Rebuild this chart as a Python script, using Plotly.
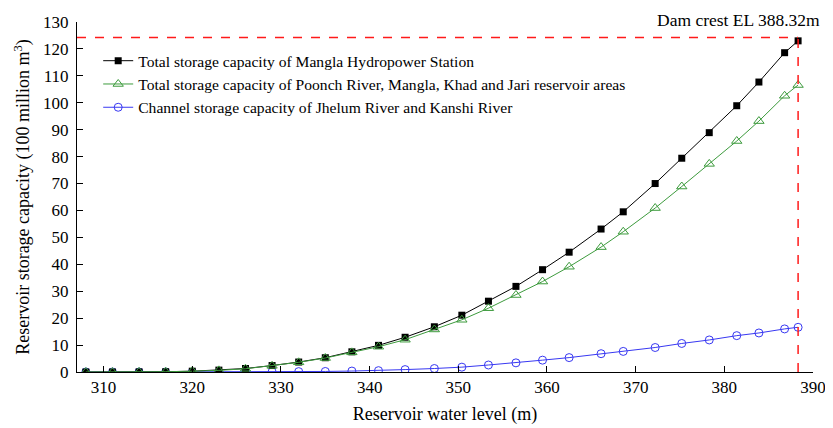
import plotly.graph_objects as go

# ── Data ────────────────────────────────────────────────────────────────────

water_level = [
    308.0, 311.0, 314.0, 317.0, 320.0, 323.0, 326.0, 329.0, 332.0, 335.0,
    338.0, 341.0, 344.0, 347.3, 350.4, 353.4, 356.5, 359.5, 362.5, 366.1,
    368.6, 372.2, 375.2, 378.3, 381.4, 383.9, 386.8, 388.32,
]
total_mangla = [
    0.0, 0.0, 0.05, 0.1, 0.3, 0.7, 1.3, 2.4, 3.7, 5.3,
    7.5, 9.9, 12.9, 16.8, 21.1, 26.3, 31.8, 38.0, 44.5, 53.1,
    59.5, 70.0, 79.4, 88.9, 98.9, 107.7, 118.6, 123.0,
]
total_reservoir_areas = [
    0.0, 0.0, 0.05, 0.1, 0.3, 0.6, 1.2, 2.3, 3.6, 5.2,
    7.3, 9.4, 12.0, 15.8, 19.4, 23.7, 28.6, 33.6, 39.1, 46.4,
    52.1, 60.9, 68.9, 77.3, 85.8, 93.2, 102.6, 106.6,
]
channel_storage = [
    0.0, 0.0, 0.0, 0.0, 0.0, 0.0, 0.0, 0.1, 0.15, 0.2,
    0.35, 0.5, 0.9, 1.3, 1.8, 2.6, 3.4, 4.4, 5.35, 6.8,
    7.65, 9.1, 10.6, 11.9, 13.5, 14.5, 16.0, 16.6,
]

DAM_CREST_LEVEL = 388.32
DAM_CREST_CAPACITY = 124.2

FONT = "Liberation Serif, Times New Roman, serif"
GREEN = "#3d9b3d"
BLUE = "#3838f2"
RED = "#ff1a1a"

fig = go.Figure()

# draw order: blue, black, green (green sits on top); legend order via legendrank
fig.add_trace(go.Scatter(
    x=water_level, y=channel_storage, mode="lines+markers",
    name="Channel storage capacity of Jhelum River and Kanshi River",
    line=dict(color=BLUE, width=1),
    marker=dict(symbol="circle-open", size=8, color=BLUE, line=dict(width=1)),
    legendrank=3,
))
fig.add_trace(go.Scatter(
    x=water_level, y=total_mangla, mode="lines+markers",
    name="Total storage capacity of Mangla Hydropower Station",
    line=dict(color="black", width=1),
    marker=dict(symbol="square", size=7, color="black"),
    legendrank=1,
))
fig.add_trace(go.Scatter(
    x=water_level, y=total_reservoir_areas, mode="lines+markers",
    name="Total storage capacity of Poonch River, Mangla, Khad and Jari reservoir areas",
    line=dict(color=GREEN, width=1),
    marker=dict(symbol="triangle-up-open", size=9, color=GREEN, line=dict(width=1)),
    legendrank=2,
))

# ── Dam crest reference lines ──
fig.add_shape(
    type="line", xref="x", yref="y", layer="above",
    x0=307, x1=DAM_CREST_LEVEL, y0=DAM_CREST_CAPACITY, y1=DAM_CREST_CAPACITY,
    line=dict(color=RED, width=1.5, dash="dash"),
)
fig.add_shape(
    type="line", xref="x", yref="y", layer="above",
    x0=DAM_CREST_LEVEL, x1=DAM_CREST_LEVEL, y0=0, y1=DAM_CREST_CAPACITY,
    line=dict(color=RED, width=1.5, dash="dash"),
)
fig.add_annotation(
    text="Dam crest EL 388.32m", xref="paper", yref="paper",
    x=1.0122, y=1.0057, xanchor="right", yanchor="middle",
    showarrow=False, font=dict(family=FONT, size=17.5, color="black"),
)

# page body adds an 8px offset, so the figure is sized 8px smaller than the window
fig.update_layout(
    width=825, height=420,
    margin=dict(l=69, r=20, t=14, b=56),
    paper_bgcolor="white", plot_bgcolor="white",
    font=dict(family=FONT, size=16, color="black"),
    showlegend=True,
    legend=dict(
        x=0.0288, y=0.937, xanchor="left", yanchor="top",
        bgcolor="rgba(0,0,0,0)", font=dict(family=FONT, size=15.6),
        tracegroupgap=0, itemwidth=30,
    ),
)
fig.update_xaxes(
    range=[307, 390], dtick=10, tick0=310, automargin=False,
    showline=True, linecolor="black", linewidth=1,
    ticks="inside", ticklen=6, tickcolor="black",
    showgrid=False, zeroline=False,
    tickfont=dict(family=FONT, size=17),
    title=dict(text="Reservoir water level (m)", font=dict(family=FONT, size=18), standoff=10),
)
fig.update_yaxes(
    range=[0, 130], dtick=10, automargin=False,
    showline=True, linecolor="black", linewidth=1,
    ticks="inside", ticklen=6, tickcolor="black", ticklabelstandoff=4,
    showgrid=False, zeroline=False,
    tickfont=dict(family=FONT, size=17),
    title=dict(text="Reservoir storage capacity (100 million m<sup>3</sup>)",
               font=dict(family=FONT, size=18), standoff=8),
)

fig.write_html("out.html")
